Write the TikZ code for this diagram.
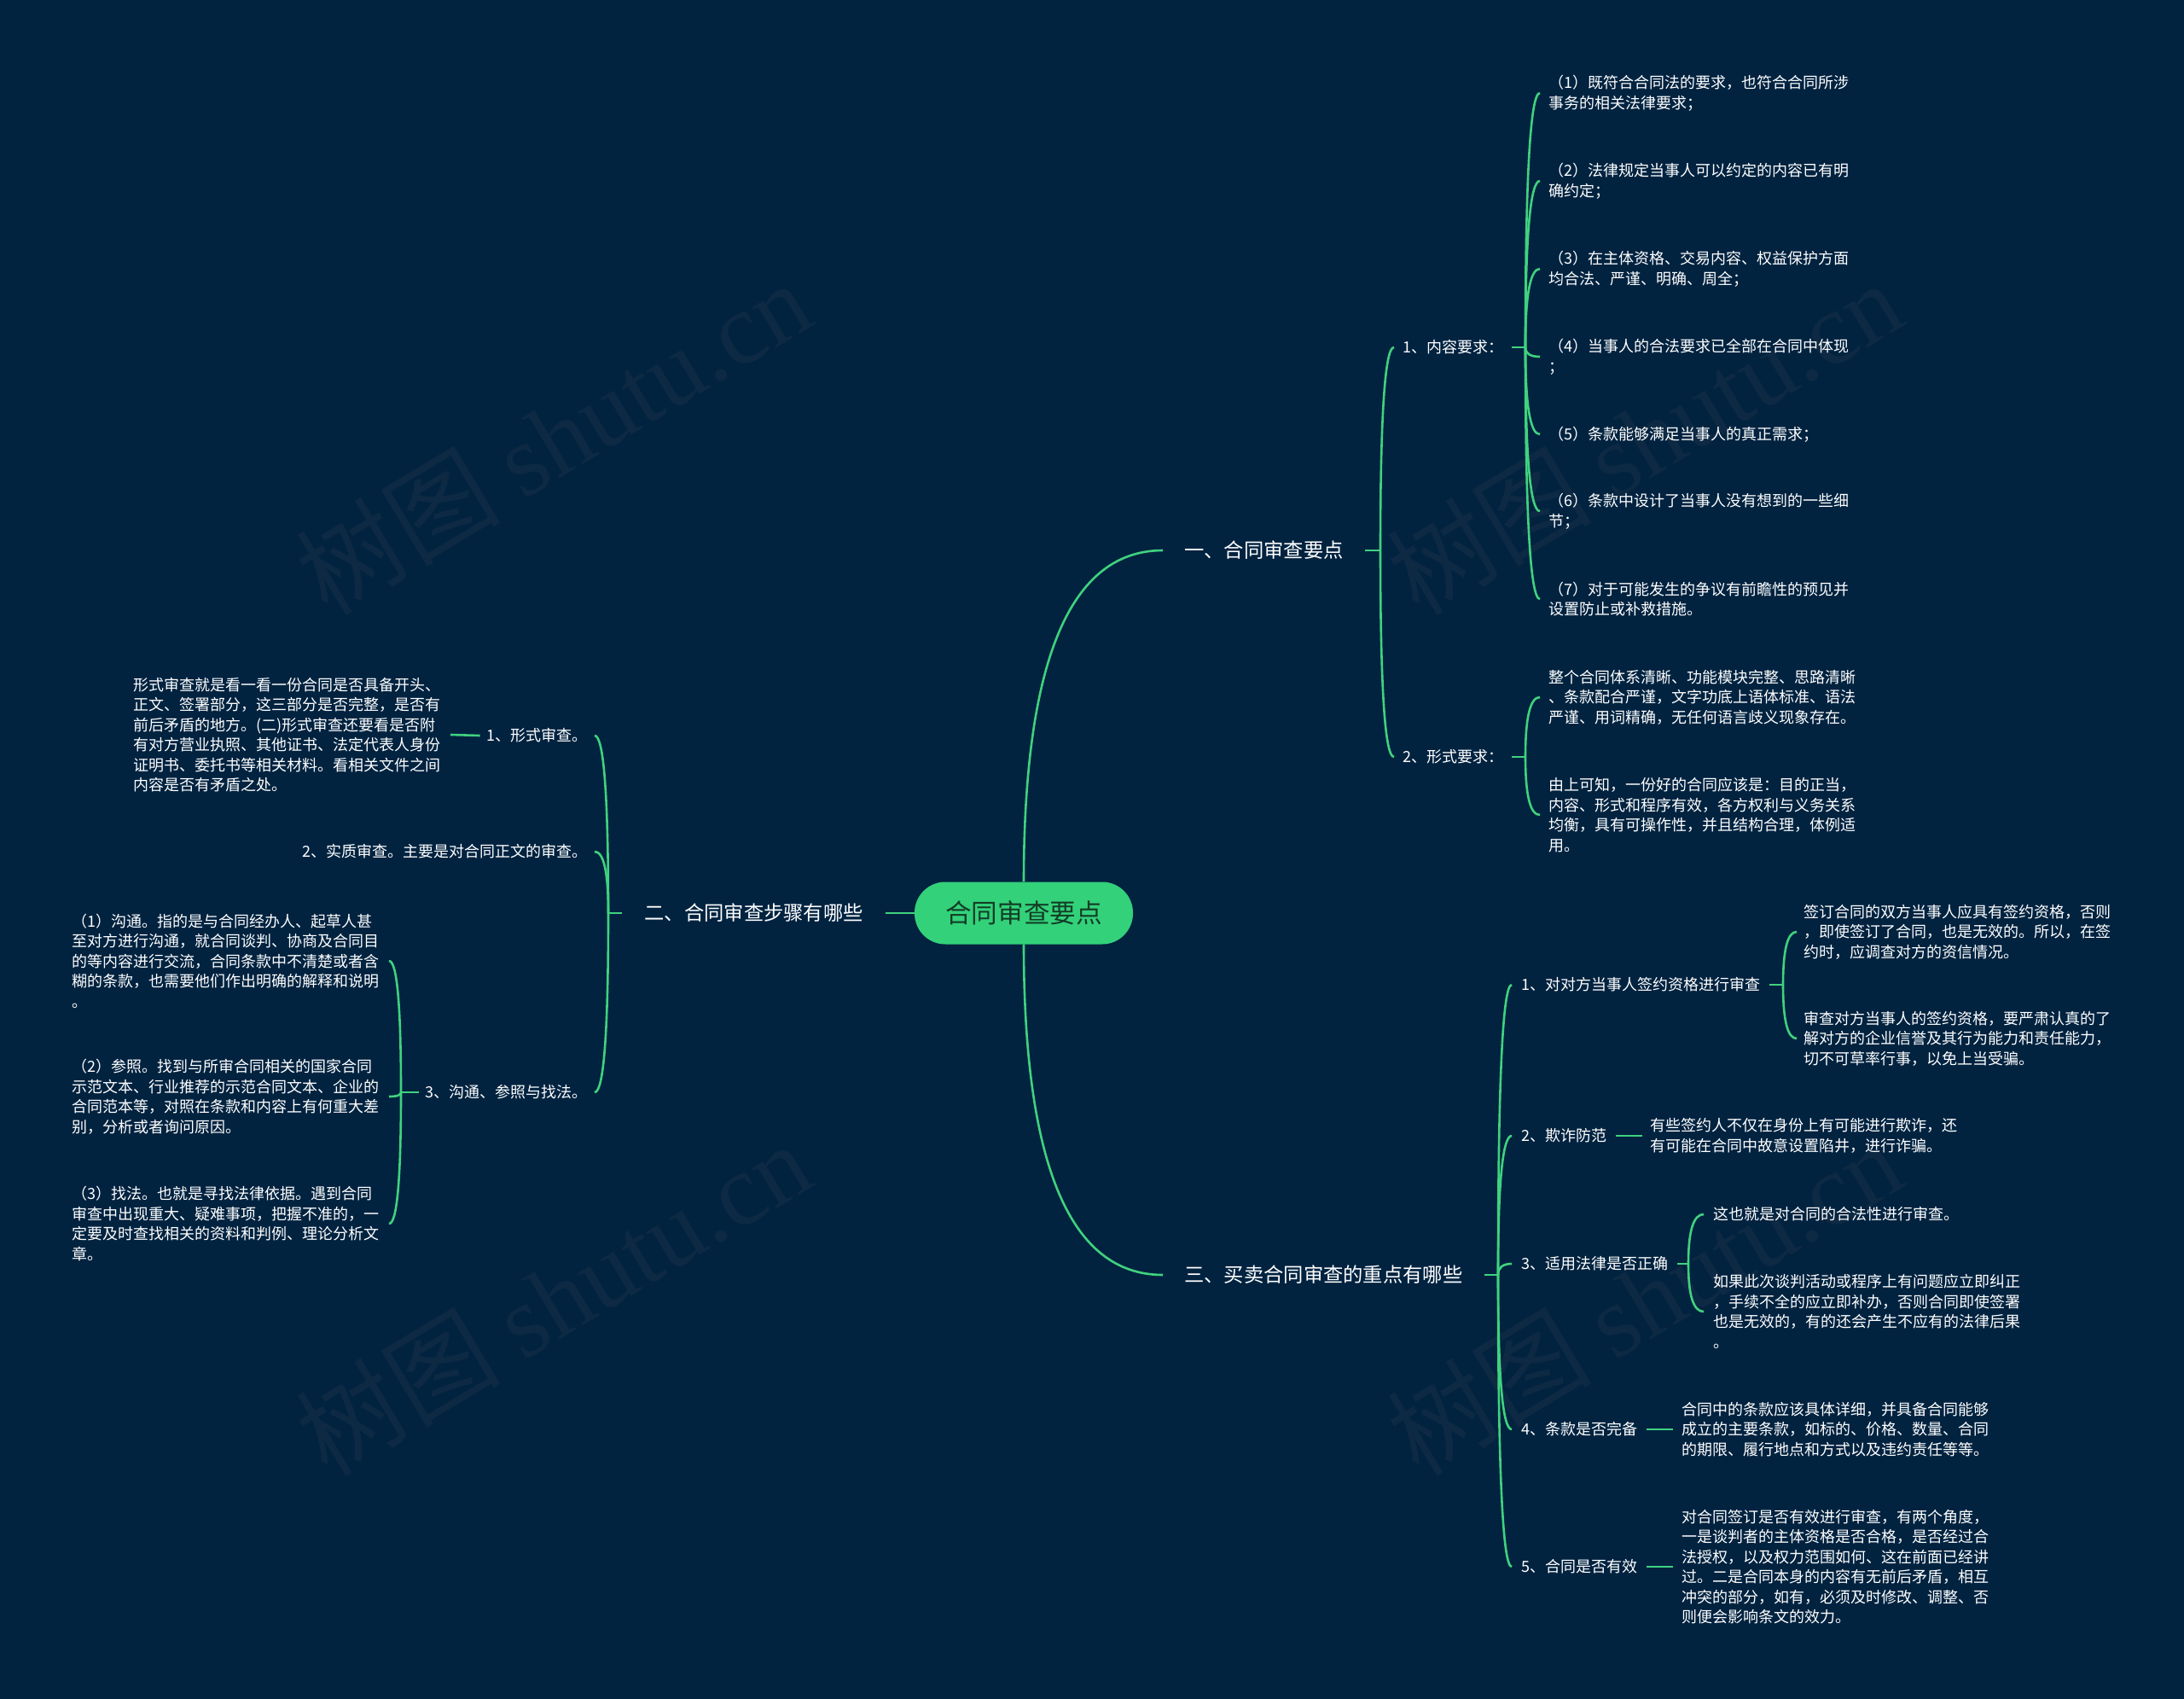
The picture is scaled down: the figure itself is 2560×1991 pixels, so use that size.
\documentclass[tikz,border=0pt]{standalone}
\usepackage{fontspec}
\setmainfont{Noto Sans CJK SC}
\newfontfamily\wmserif{Liberation Serif}
\usetikzlibrary{calc}
\definecolor{bg}{HTML}{012340}
\definecolor{lnk}{HTML}{40D27E}
\definecolor{rootfill}{HTML}{33D17A}
\definecolor{roottext}{HTML}{123D26}
\definecolor{wmcol}{HTML}{0D2943}
\newcommand{\qlink}[2]{%
  \coordinate (qc) at (#1 |- #2);
  \draw[link] (#1) .. controls ($(#1)!0.6667!(qc)$) and ($(#2)!0.6667!(qc)$) .. (#2);}
\begin{document}
\begin{tikzpicture}[x=1pt,y=-1pt,
  link/.style={draw=lnk, line width=2.6pt},
  leaf/.style={text=white, font=\fontsize{18}{23.5}\selectfont, align=left, inner ysep=0pt, inner xsep=10pt},
  sublabel/.style={text=white, font=\fontsize{18}{23.5}\selectfont, inner ysep=0pt, inner xsep=10pt},
  mainlabel/.style={text=white, font=\fontsize{23.3}{28}\selectfont, inner ysep=0pt, inner xsep=25pt},
  wmark/.style={text=wmcol, font=\fontsize{120}{130}\selectfont, rotate=31, inner sep=0pt},
  rootbox/.style={fill=rootfill, rounded corners=36pt, minimum width=256pt, minimum height=73pt,
    text=roottext, font=\fontsize{30.6}{36}\selectfont, inner sep=0pt}
]
\fill[bg] (0,0) rectangle (2560,1991);
\useasboundingbox (0,0) rectangle (2560,1991);

% watermarks
\node[wmark] (wm1) at (648,512) {树图 {\wmserif shutu.cn}};
\node[wmark] (wm2) at (1927,512) {树图 {\wmserif shutu.cn}};
\node[wmark] (wm3) at (648,1521) {树图 {\wmserif shutu.cn}};
\node[wmark] (wm4) at (1927,1521) {树图 {\wmserif shutu.cn}};

% root
\node[rootbox] (root) at (1200,1070) {合同审查要点};

% main branches
\node[mainlabel, anchor=west] (b1) at (1363,645) {一、合同审查要点};
\node[mainlabel, anchor=east, inner xsep=26pt] (b2) at (1038,1070) {二、合同审查步骤有哪些};
\node[mainlabel, anchor=west] (b3) at (1363,1494) {三、买卖合同审查的重点有哪些};

\qlink{root.north}{b1.west}
\qlink{root.south}{b3.west}
\draw[link] (root.west) -- (b2.east);

% ---------- branch 1 ----------
\coordinate (j1) at (1618,645);
\draw[link] (b1.east) -- (j1);
\node[sublabel, anchor=west] (c11) at (1634,407) {1、内容要求：};
\node[sublabel, anchor=west] (c12) at (1634,887) {2、形式要求：};
\foreach \n in {c11,c12} {\qlink{j1}{\n.west}}

\coordinate (j11) at (1788,407);
\draw[link] (c11.east) -- (j11);
\node[leaf, anchor=west] (d1) at (1805,109) {（1）既符合合同法的要求，也符合合同所涉\\事务的相关法律要求；};
\node[leaf, anchor=west] (d2) at (1805,212) {（2）法律规定当事人可以约定的内容已有明\\确约定；};
\node[leaf, anchor=west] (d3) at (1805,315) {（3）在主体资格、交易内容、权益保护方面\\均合法、严谨、明确、周全；};
\node[leaf, anchor=west] (d4) at (1805,418) {（4）当事人的合法要求已全部在合同中体现\\；};
\node[leaf, anchor=west] (d5) at (1805,509) {（5）条款能够满足当事人的真正需求；};
\node[leaf, anchor=west] (d6) at (1805,599) {（6）条款中设计了当事人没有想到的一些细\\节；};
\node[leaf, anchor=west] (d7) at (1805,702) {（7）对于可能发生的争议有前瞻性的预见并\\设置防止或补救措施。};
\foreach \n in {d1,d2,d3,d4,d5,d6,d7} {\qlink{j11}{\n.west}}

\coordinate (j12) at (1788,887);
\draw[link] (c12.east) -- (j12);
\node[leaf, anchor=west] (e1) at (1805,817) {整个合同体系清晰、功能模块完整、思路清晰\\、条款配合严谨，文字功底上语体标准、语法\\严谨、用词精确，无任何语言歧义现象存在。};
\node[leaf, anchor=west] (e2) at (1805,955) {由上可知，一份好的合同应该是：目的正当，\\内容、形式和程序有效，各方权利与义务关系\\均衡，具有可操作性，并且结构合理，体例适\\用。};
\foreach \n in {e1,e2} {\qlink{j12}{\n.west}}

% ---------- branch 3 ----------
\coordinate (j3) at (1756,1494);
\draw[link] (b3.east) -- (j3);
\node[sublabel, anchor=west, inner xsep=11pt] (c31) at (1772,1154) {1、对对方当事人签约资格进行审查};
\node[sublabel, anchor=west, inner xsep=11pt] (c32) at (1772,1331) {2、欺诈防范};
\node[sublabel, anchor=west, inner xsep=11pt] (c33) at (1772,1481) {3、适用法律是否正确};
\node[sublabel, anchor=west, inner xsep=11pt] (c34) at (1772,1675) {4、条款是否完备};
\node[sublabel, anchor=west, inner xsep=11pt] (c35) at (1772,1836) {5、合同是否有效};
\foreach \n in {c31,c32,c33,c34,c35} {\qlink{j3}{\n.west}}

\coordinate (j31) at (2090,1154);
\draw[link] (c31.east) -- (j31);
\node[leaf, anchor=west, inner xsep=8pt] (f1) at (2106,1092) {签订合同的双方当事人应具有签约资格，否则\\，即使签订了合同，也是无效的。所以，在签\\约时，应调查对方的资信情况。};
\node[leaf, anchor=west, inner xsep=8pt] (f2) at (2106,1217) {审查对方当事人的签约资格，要严肃认真的了\\解对方的企业信誉及其行为能力和责任能力，\\切不可草率行事，以免上当受骗。};
\foreach \n in {f1,f2} {\qlink{j31}{\n.west}}

\node[leaf, anchor=west, inner xsep=9pt] (g1) at (1925,1331) {有些签约人不仅在身份上有可能进行欺诈，还\\有可能在合同中故意设置陷井，进行诈骗。};
\draw[link] (c32.east) -- (g1.west);

\coordinate (j33) at (1979,1481);
\draw[link] (c33.east) -- (j33);
\node[leaf, anchor=west, inner xsep=11pt] (h1) at (1997,1423) {这也就是对合同的合法性进行审查。};
\node[leaf, anchor=west, inner xsep=11pt] (h2) at (1997,1537) {如果此次谈判活动或程序上有问题应立即纠正\\，手续不全的应立即补办，否则合同即使签署\\也是无效的，有的还会产生不应有的法律后果\\。};
\foreach \n in {h1,h2} {\qlink{j33}{\n.west}}

\node[leaf, anchor=west] (i1) at (1961,1675) {合同中的条款应该具体详细，并具备合同能够\\成立的主要条款，如标的、价格、数量、合同\\的期限、履行地点和方式以及违约责任等等。};
\draw[link] (c34.east) -- (i1.west);

\node[leaf, anchor=west] (k1) at (1961,1836) {对合同签订是否有效进行审查，有两个角度，\\一是谈判者的主体资格是否合格，是否经过合\\法授权，以及权力范围如何、这在前面已经讲\\过。二是合同本身的内容有无前后矛盾，相互\\冲突的部分，如有，必须及时修改、调整、否\\则便会影响条文的效力。};
\draw[link] (c35.east) -- (k1.west);

% ---------- branch 2 ----------
\coordinate (j2) at (713,1070);
\draw[link] (b2.west) -- (j2);
\node[sublabel, anchor=east, inner xsep=8pt] (c21) at (697,862) {1、形式审查。};
\node[sublabel, anchor=east, inner xsep=8pt] (c22) at (697,998) {2、实质审查。主要是对合同正文的审查。};
\node[sublabel, anchor=east, inner xsep=8pt] (c23) at (697,1280) {3、沟通、参照与找法。};
\foreach \n in {c21,c22,c23} {\qlink{j2}{\n.east}}

\node[leaf, anchor=east, inner xsep=11pt] (l1) at (528,861) {形式审查就是看一看一份合同是否具备开头、\\正文、签署部分，这三部分是否完整，是否有\\前后矛盾的地方。(二)形式审查还要看是否附\\有对方营业执照、其他证书、法定代表人身份\\证明书、委托书等相关材料。看相关文件之间\\内容是否有矛盾之处。};
\draw[link] (c21.west) -- (l1.east);

\coordinate (j23) at (470,1280);
\draw[link] (c23.west) -- (j23);
\node[leaf, anchor=east, inner xsep=11pt] (m1) at (456,1126) {（1）沟通。指的是与合同经办人、起草人甚\\至对方进行沟通，就合同谈判、协商及合同目\\的等内容进行交流，合同条款中不清楚或者含\\糊的条款，也需要他们作出明确的解释和说明\\。};
\node[leaf, anchor=east, inner xsep=11pt] (m2) at (456,1285) {（2）参照。找到与所审合同相关的国家合同\\示范文本、行业推荐的示范合同文本、企业的\\合同范本等，对照在条款和内容上有何重大差\\别，分析或者询问原因。};
\node[leaf, anchor=east, inner xsep=11pt] (m3) at (456,1434) {（3）找法。也就是寻找法律依据。遇到合同\\审查中出现重大、疑难事项，把握不准的，一\\定要及时查找相关的资料和判例、理论分析文\\章。};
\foreach \n in {m1,m2,m3} {\qlink{j23}{\n.east}}
\end{tikzpicture}
\end{document}
